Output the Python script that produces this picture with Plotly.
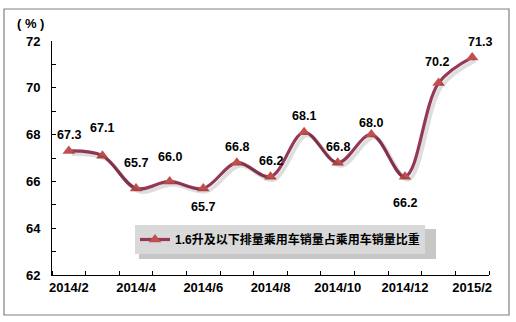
import plotly.graph_objects as go

months = ["2014/2", "2014/3", "2014/4", "2014/5", "2014/6", "2014/7", "2014/8",
          "2014/9", "2014/10", "2014/11", "2014/12", "2015/1", "2015/2"]
share = [67.3, 67.1, 65.7, 66.0, 65.7, 66.8, 66.2, 68.1, 66.8, 68.0, 66.2, 70.2, 71.3]
series_name = "1.6升及以下排量乘用车销量占乘用车销量比重"
y_ticks = [62, 64, 66, 68, 70, 72]

# label offsets (px) for the data labels
label_dx = [0, 0, 0, 0, 0, 0, 0, 0, 0, 0, 0, -2, 8]
label_dy = [16, 28, 25, 24, -19, 16, 16, 16, 16, 12, -26, 21, 15]

W, H = 516, 322
L, R, T, B = 52, 27, 41, 47
PW, PH = W - L - R, H - T - B

def px(x):
    return (x - L) / PW

def py(y):
    return (H - B - y) / PH

FONT = "Liberation Sans, Arial, Noto Sans CJK SC, sans-serif"
LINE_C = "#953856"
MARK_C = "#C0504D"

xs = list(range(len(months)))

fig = go.Figure()

# soft shadow of the line (drawn on a slightly shifted overlay axis)
fig.add_trace(go.Scatter(
    x=xs, y=share, mode="lines", line=dict(color="rgba(0,0,0,0.13)", width=4, shape="spline", smoothing=1.0),
    xaxis="x2", yaxis="y2", showlegend=False, hoverinfo="skip"))

fig.add_trace(go.Scatter(
    x=xs, y=share, mode="lines+markers", name=series_name,
    line=dict(color=LINE_C, width=3.2, shape="spline", smoothing=1.0),
    marker=dict(symbol="triangle-up", size=11, color=MARK_C, line=dict(width=0)),
))

for i, v in enumerate(share):
    fig.add_annotation(x=xs[i], y=v, text=f"{v:.1f}", showarrow=False,
                       xshift=label_dx[i], yshift=label_dy[i],
                       font=dict(family=FONT, size=12.5, color="black", weight="bold"))

dx = 3 / PW * 13.0
dy = 3 / PH * 10.0

fig.update_layout(
    width=W, height=H,
    margin=dict(l=L, r=R, t=T, b=B),
    paper_bgcolor="white", plot_bgcolor="white",
    font=dict(family=FONT, size=12, color="black"),
    xaxis=dict(
        range=[-0.5, 12.5], tickmode="array",
        tickvals=xs[::2], ticktext=months[::2],
        ticks="", showgrid=False, zeroline=False,
        showline=True, linecolor="black", linewidth=1,
        tickfont=dict(family=FONT, size=13, color="black", weight="bold"),
        minor=dict(tickmode="linear", tick0=-0.5, dtick=1, ticks="inside", ticklen=4,
                   tickcolor="black", showgrid=False),
        fixedrange=True,
    ),
    yaxis=dict(
        range=[62, 72], tickmode="array", tickvals=y_ticks,
        ticks="inside", ticklen=4, tickcolor="black",
        showgrid=False, zeroline=False,
        showline=True, linecolor="black", linewidth=1,
        tickfont=dict(family=FONT, size=13, color="black", weight="bold"),
        minor=dict(tickmode="linear", tick0=62, dtick=1, ticks="inside", ticklen=4,
                   tickcolor="black", showgrid=False),
        ticklabelstandoff=8,
    ),
    xaxis2=dict(range=[-0.5 - dx, 12.5 - dx], overlaying="x", visible=False),
    yaxis2=dict(range=[62 + dy, 72 + dy], overlaying="y", visible=False),
    showlegend=True,
    legend=dict(
        x=px(135), y=py(225), xanchor="left", yanchor="top",
        bgcolor="#D9D9D9", borderwidth=0,
        font=dict(family="Liberation Sans, Noto Sans CJK SC, sans-serif", size=12, color="black", weight="bold"),
        itemwidth=30,
    ),
    shapes=[
        dict(type="rect", xref="paper", yref="paper",
             x0=px(4), x1=px(509), y0=py(315), y1=py(9),
             line=dict(color="#808080", width=1.2), fillcolor="rgba(0,0,0,0)", layer="below"),
        dict(type="rect", xref="paper", yref="paper",
             x0=px(139), x1=px(436), y0=py(259), y1=py(229),
             line=dict(width=0), fillcolor="rgba(0,0,0,0.22)", layer="above"),
    ],
    annotations=list(fig.layout.annotations) + [
        dict(text="( % )", xref="paper", yref="paper", x=px(30), y=py(23),
             showarrow=False, xanchor="center", yanchor="middle",
             font=dict(family=FONT, size=13, color="black", weight="bold")),
    ],
)

fig.write_html("out.html")
